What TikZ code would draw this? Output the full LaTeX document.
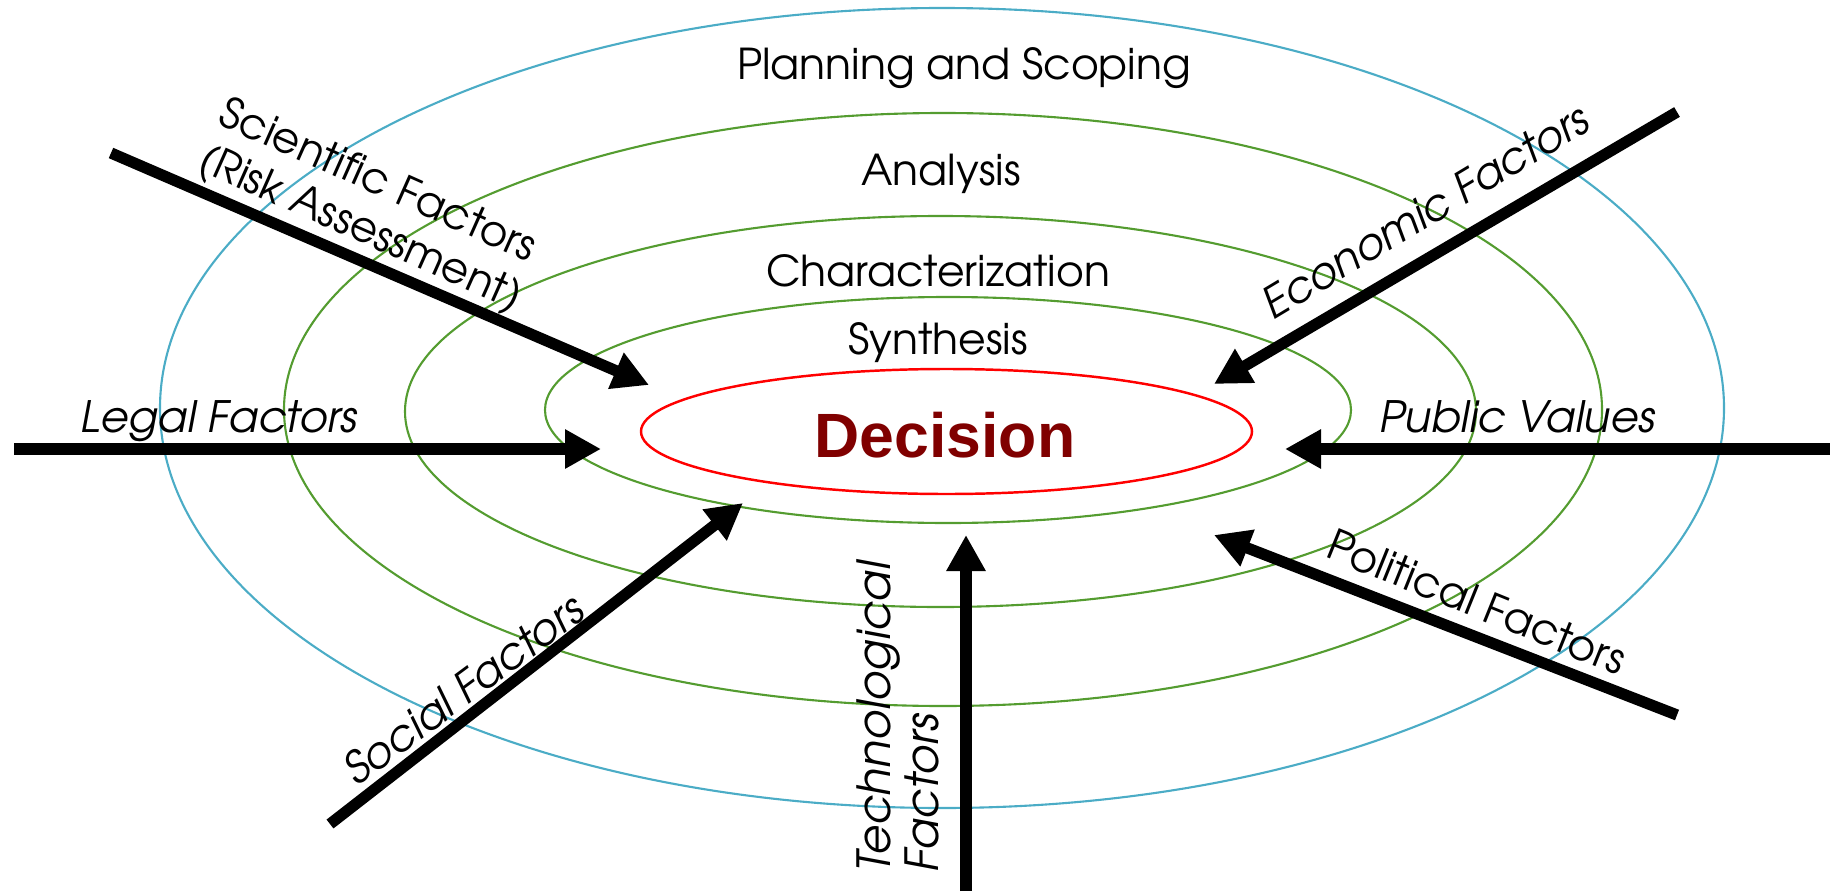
\documentclass[tikz,border=0pt]{standalone}
\usepackage{fontspec}
\setmainfont{TeX Gyre Adventor}
\newfontfamily\decisionfont{Liberation Sans}
\usepackage{tikz}
\usetikzlibrary{arrows.meta}
\definecolor{ringblue}{RGB}{75,172,198}
\definecolor{ringgreen}{RGB}{84,156,48}
\definecolor{decisionred}{RGB}{128,0,0}

\begin{document}
\begin{tikzpicture}
	\tikzset{ring/.style={ringgreen,line width=0.6pt},
		factor/.style={line width=3.2pt,-{Triangle[length=0.36cm,width=0.37cm]}},
		stage/.style={anchor=base,inner sep=0,font=\fontsize{12.1}{14}\selectfont},
		lbl/.style={inner sep=0,font=\fontsize{12.1}{14.2}\selectfont},
		ilbl/.style={inner sep=0,font=\fontsize{12.3}{13.6}\selectfont\itshape}}
	\useasboundingbox (0,0) rectangle (18.30,8.91);

	\draw[ringblue,line width=0.6pt] (9.42,4.83) ellipse [x radius=7.82, y radius=4.00];
	\draw[ring] (9.43,4.815) ellipse [x radius=6.59, y radius=2.965];
	\draw[ring] (9.405,4.795) ellipse [x radius=5.355, y radius=1.955];
	\draw[ring] (9.48,4.81) ellipse [x radius=4.03, y radius=1.13];
	\draw[red,line width=0.7pt] (9.465,4.595) ellipse [x radius=3.055, y radius=0.625];

	\node[stage](plan) at (9.64,8.12) {Planning and Scoping};
	\node[stage](analysis) at (9.41,7.06) {Analysis};
	\node[stage](charac) at (9.38,6.05) {Characterization};
	\node[stage](synth) at (9.38,5.37) {Synthesis};
	\node[inner sep=0,text=decisionred,font=\decisionfont\bfseries\fontsize{17.8}{20}\selectfont](decision) at (9.45,4.56) {Decision};

	\coordinate (sciA) at (1.11,7.38);   \coordinate (sciB) at (6.49,5.06);
	\coordinate (ecoA) at (16.77,7.79);  \coordinate (ecoB) at (12.14,5.07);
	\coordinate (legA) at (0.14,4.42);   \coordinate (legB) at (6.01,4.42);
	\coordinate (pubA) at (18.30,4.42);  \coordinate (pubB) at (12.85,4.42);
	\coordinate (socA) at (3.30,0.67);   \coordinate (socB) at (7.43,3.88);
	\coordinate (tecA) at (9.66,0);      \coordinate (tecB) at (9.66,3.56);
	\coordinate (polA) at (16.77,1.76);  \coordinate (polB) at (12.14,3.56);

	\draw[factor] (sciA) -- (sciB);
	\draw[factor] (ecoA) -- (ecoB);
	\draw[factor] (legA) -- (legB);
	\draw[factor] (pubA) -- (pubB);
	\draw[factor] (socA) -- (socB);
	\draw[factor] (tecA) -- (tecB);
	\draw[factor] (polA) -- (polB);

	\node[lbl,rotate=-24,align=left](sci) at (3.70,6.84) {Scientific Factors\\(Risk Assessment)};
	\node[ilbl,rotate=31](eco) at (14.25,6.80) {Economic Factors};
	\node[ilbl,anchor=base](leg) at (2.19,4.59) {Legal Factors};
	\node[ilbl,anchor=base](pub) at (15.17,4.59) {Public Values};
	\node[ilbl,rotate=36.5](soc) at (4.63,2.02) {Social Factors};
	\node[ilbl,rotate=90,align=left,font=\fontsize{13}{13.6}\selectfont\itshape](tec) at (8.98,1.74) {Technological\\Factors};
	\node[lbl,rotate=-22](pol) at (14.77,2.89) {Political Factors};
\end{tikzpicture}
\end{document}
